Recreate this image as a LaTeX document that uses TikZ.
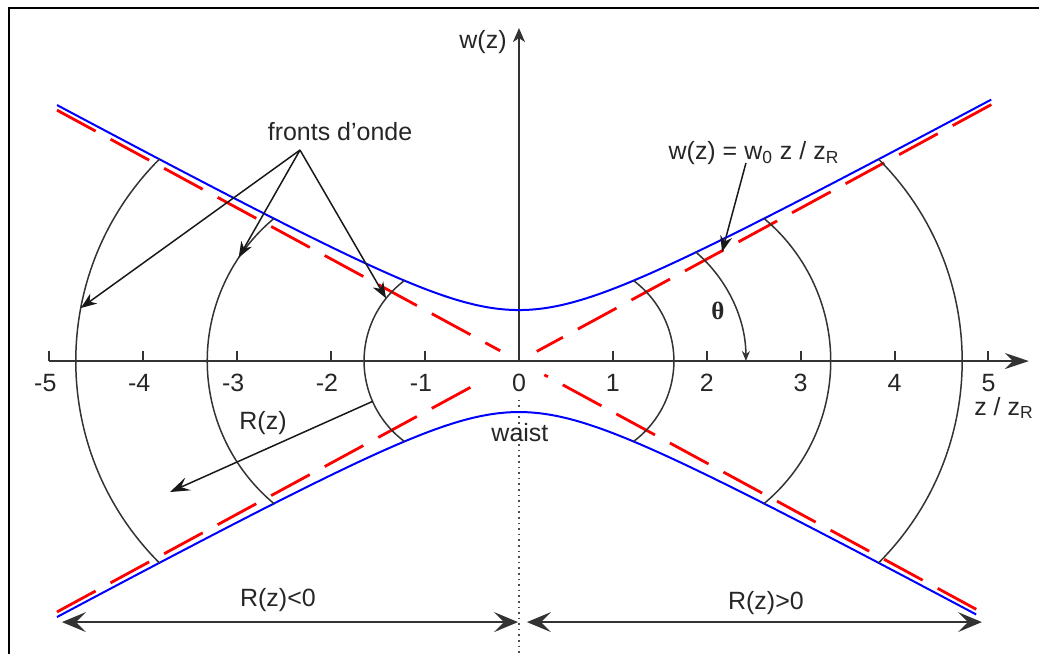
\documentclass[tikz,border=0pt]{standalone}
\usepackage{amsmath}
\usepackage{fontspec}
\setmainfont{Liberation Sans}
\newfontfamily\thetafont{Liberation Serif}
\usetikzlibrary{arrows.meta,calc}

\begin{document}
\begin{tikzpicture}[x=1.652cm, y=1.652cm,
  every node/.style={font=\fontsize{12.5}{15}\selectfont, text=black!85, inner sep=1pt},
  axisline/.style={line width=1pt, black!80},
  beam/.style={line width=1pt, blue},
  asym/.style={line width=1.4pt, red, dash pattern=on 22pt off 8.5pt},
  front/.style={line width=0.75pt, black!80},
  pointer/.style={line width=0.75pt, black!90, -{Stealth[length=8pt,width=6pt,inset=2.5pt]}},
  span/.style={line width=0.75pt, black!80, {Stealth[length=12pt,width=10pt,inset=5pt]}-{Stealth[length=12pt,width=10pt,inset=5pt]}}]
\useasboundingbox (-5.527,-3.110) rectangle (5.538,3.845);
% frame
\draw[line width=1pt] (-5.431,-3.2) -- (-5.431,3.759) -- (5.6,3.759);
% axes
\draw[axisline, -{Stealth[length=12pt,width=8pt,inset=4pt]}] (-5,0) -- (5.43,0);
\draw[axisline, -{Stealth[length=7pt,width=6pt,inset=2pt]}] (0,0) -- (0,3.546);
\draw[line width=0.8pt, black!70, dotted] (0,-0.41) -- (0,-3.11);
\node (wlab) at (-0.383,3.397) {w(z)};
\node (zlab) at (5.165,-0.50) {z / z\textsubscript{R}};
% ticks
\foreach \x in {1,...,5}{
  \draw[axisline] (\x,0) -- (\x,0.107);
  \draw[axisline] (-\x,0) -- (-\x,0.107);
  \node (tick\x) at (\x,-0.23) {\x};
  \node (tickm\x) at (-\x,-0.23) {\llap{-}\x};
}
\node (tick0) at (0,-0.23) {0};
% beam envelope and asymptotes
\draw[beam, domain=-4.92:5.03, samples=120, smooth] plot (\x,{0.543*sqrt(1+\x*\x)});
\draw[beam, domain=-4.92:4.87, samples=120, smooth] plot (\x,{-0.543*sqrt(1+\x*\x)});
\draw[asym] (-4.92,2.672) -- (-0.2,0.109);
\draw[asym] (5.03,2.731) -- (0.19,0.103);
\draw[asym] (-4.92,-2.672) -- (-0.36,-0.195);
\draw[asym] (4.87,-2.644) -- (0.27,-0.147);
% wavefronts
\foreach \za/\zb/\tip [count=\i] in {1.65/1.22/141.3, 3.32/2.61/146.2, 4.72/3.83/169.3}{
  \pgfmathsetmacro{\wz}{0.543*sqrt(1+\zb*\zb)}
  \pgfmathsetmacro{\cz}{(\za*\za-\zb*\zb-\wz*\wz)/(2*(\za-\zb))}
  \pgfmathsetmacro{\rad}{\za-\cz}
  \pgfmathsetmacro{\ang}{atan2(\wz,\zb-\cz)}
  \draw[front] (\zb,\wz) arc[start angle=\ang, end angle=-\ang, radius=\rad];
  \draw[front] (-\zb,\wz) arc[start angle=180-\ang, end angle=180+\ang, radius=\rad];
  \coordinate (front\i) at ({-\cz+\rad*cos(\tip)},{\rad*sin(\tip)});
}
\node (fronts) at (-1.906,2.439) {fronts d'onde};
\coordinate (fork) at (-2.332,2.247);
\foreach \i in {1,2,3}
  \draw[pointer] (fork) -- (front\i);
% asymptote label
\node (formula) at (2.503,2.215) {w(z) = w\textsubscript{0} z / z\textsubscript{R}};
\coordinate (ftail) at (2.417,2.109);
\coordinate (ftip) at (2.162,1.161);
\draw[pointer] (ftail) -- (ftip);
% divergence angle
\node (theta) at (2.119,0.532) {\thetafont\bfseries θ};
\draw[front, -{Stealth[length=5pt,width=4pt]}] (1.885,1.159) arc[start angle=49.3, end angle=0, radius=1.528];
% radius of curvature
\node (rlab) at (-2.726,-0.660) {R(z)};
\coordinate (rtail) at (-1.56,-0.43);
\coordinate (rtip) at (-3.717,-1.395);
\draw[pointer, -{Stealth[length=10pt,width=7pt,inset=4pt]}] (rtail) -- (rtip);
\node (waist) at (0.01,-0.767) {waist};
% sign of R(z)
\coordinate (lend) at (-4.867,-2.78);
\coordinate (lmid) at (-0.01,-2.78);
\coordinate (rmid) at (0.085,-2.78);
\coordinate (rend) at (4.93,-2.78);
\draw[span] (lend) -- (lmid);
\draw[span] (rmid) -- (rend);
\node (rneg) at (-2.567,-2.545) {R(z)<0};
\node (rpos) at (2.630,-2.577) {R(z)>0};
\end{tikzpicture}
\end{document}
